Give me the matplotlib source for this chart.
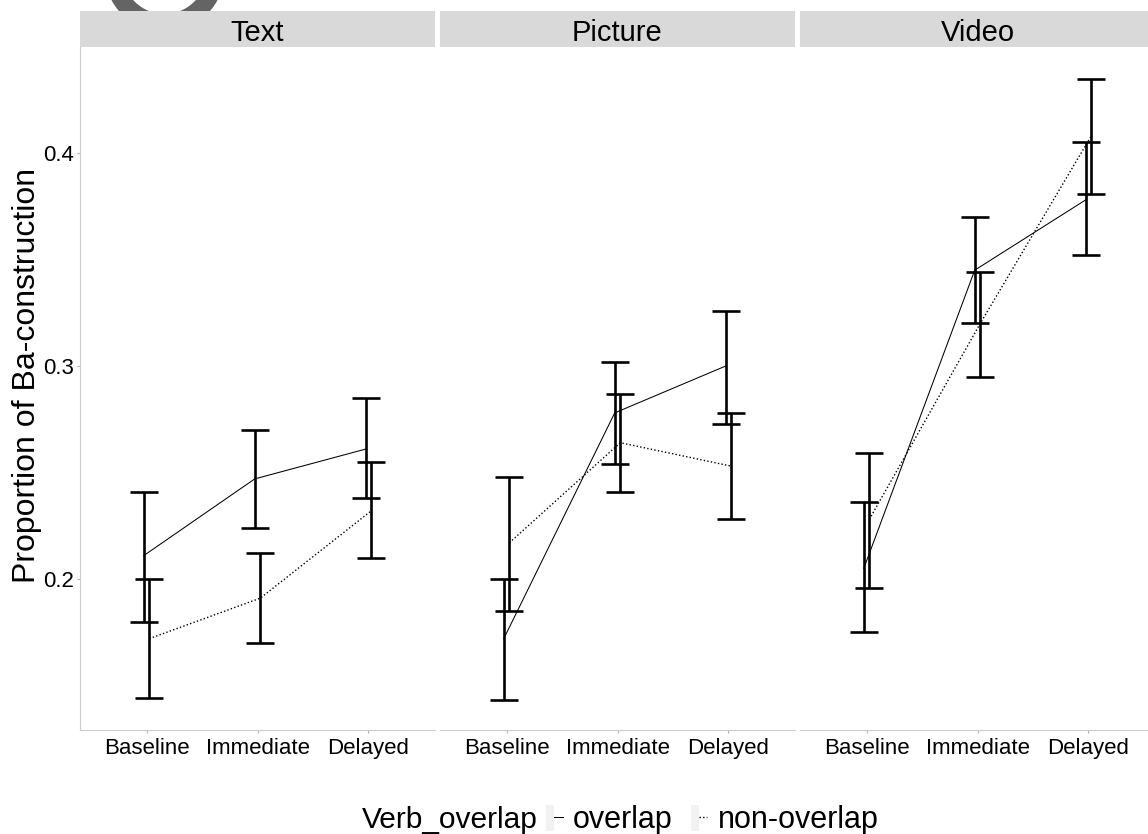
import numpy as np
import matplotlib
matplotlib.use("Agg")
import matplotlib.pyplot as plt
from matplotlib.patches import Rectangle, Wedge
from matplotlib.lines import Line2D
from matplotlib.legend_handler import HandlerTuple

plt.rcParams['font.family'] = ['Liberation Sans', 'DejaVu Sans']

## values, one row per modality (Text, Picture, Video)
modalities = ["Text", "Picture", "Video"]
phases = ["Baseline", "Immediate", "Delayed"]

overlap_mean = [[0.211, 0.247, 0.261], [0.172, 0.278, 0.300], [0.205, 0.345, 0.378]]
overlap_lo = [[0.180, 0.224, 0.238], [0.143, 0.254, 0.273], [0.175, 0.320, 0.352]]
overlap_hi = [[0.241, 0.270, 0.285], [0.200, 0.302, 0.326], [0.236, 0.370, 0.405]]

nonoverlap_mean = [[0.172, 0.191, 0.232], [0.217, 0.264, 0.253], [0.228, 0.320, 0.408]]
nonoverlap_lo = [[0.144, 0.170, 0.210], [0.185, 0.241, 0.228], [0.196, 0.295, 0.381]]
nonoverlap_hi = [[0.200, 0.212, 0.255], [0.248, 0.287, 0.278], [0.259, 0.344, 0.435]]

y_ticks = [0.2, 0.3, 0.4]

W, H = 1148, 834
fig = plt.figure(figsize=(W / 100, H / 100), dpi=100)

# grey ring poking in at the top left of the original screenshot
ring = Wedge((1.645, 8.62), 0.60, 0, 360, width=0.18, facecolor='#646464',
             edgecolor='none', transform=fig.dpi_scale_trans, zorder=-1)
fig.add_artist(ring)

grid_col = '#cccccc'
x = np.arange(1, len(phases) + 1)
dodge = 0.025
cap = 0.125

series = [
    (overlap_mean, overlap_lo, overlap_hi, -dodge, '-', 0.75),
    (nonoverlap_mean, nonoverlap_lo, nonoverlap_hi, dodge, (0, (1, 1.6)), 1.0),
]

for i, mod in enumerate(modalities):
    left = 80 + i * 360
    ax = fig.add_axes([left / W, 104 / H, 355 / W, 683 / H])
    for mean, lo, hi, off, ls, lw in series:
        xs = x + off
        ax.plot(xs, mean[i], color='black', linestyle=ls, lw=lw)
        ax.vlines(xs, lo[i], hi[i], color='black', lw=1.9)
        ax.hlines(lo[i], xs - cap, xs + cap, color='black', lw=1.9)
        ax.hlines(hi[i], xs - cap, xs + cap, color='black', lw=1.9)

    ax.set_xlim(0.4, 3.6)
    ax.set_ylim(0.1291, 0.4498)
    ax.set_xticks(x)
    ax.set_xticklabels(phases)
    ax.set_yticks(y_ticks)
    for s in ['top', 'right']:
        ax.spines[s].set_visible(False)
    ax.spines['bottom'].set_color(grid_col)
    ax.spines['bottom'].set_linewidth(0.8)
    if i == 0:
        ax.spines['left'].set_color(grid_col)
        ax.spines['left'].set_linewidth(0.8)
        ax.set_yticklabels([f"{v:.1f}" for v in y_ticks])
        ax.tick_params(axis='y', length=2.5, width=0.8, color='#b3b3b3',
                       labelsize=16, pad=2)
    else:
        ax.spines['left'].set_visible(False)
        ax.tick_params(axis='y', left=False, labelleft=False)
    ax.tick_params(axis='x', length=2.5, width=0.8, color='#b3b3b3',
                   labelsize=16, pad=3)

    # facet strip
    strip = Rectangle((0, 1), 1, 36 / 683, transform=ax.transAxes,
                      facecolor='#d9d9d9', edgecolor='none', clip_on=False)
    ax.add_patch(strip)
    ax.text(0.5, 1 + 6.5 / 683, mod, transform=ax.transAxes, ha='center',
            va='baseline', fontsize=21)

fig.text(27 / W, 1 - 375 / H, 'Proportion of Ba-construction', rotation=90,
         ha='center', va='center', fontsize=23)

# legend along the bottom
fig.text(362 / W, 6 / H, 'Verb_overlap', ha='left', va='baseline', fontsize=21.5)
box1 = Rectangle((0, 0), 1, 1, facecolor='#f2f2f2', edgecolor='none')
box2 = Rectangle((0, 0), 1, 1, facecolor='#f2f2f2', edgecolor='none')
solid = Line2D([], [], color='black', lw=0.75)
dotted = Line2D([], [], color='black', lw=1.0, linestyle=(0, (1, 1.6)))
fig.legend(handles=[(box1, solid), (box2, dotted)],
           labels=['overlap', 'non-overlap'],
           handler_map={tuple: HandlerTuple(ndivide=None)},
           ncol=2, frameon=False, loc='center left',
           bbox_to_anchor=(546 / W, 14 / H), fontsize=22,
           handlelength=0.55, handleheight=0.92, handletextpad=0.33,
           columnspacing=0.59, borderpad=0, borderaxespad=0)

fig.savefig('out.png', dpi=100)
